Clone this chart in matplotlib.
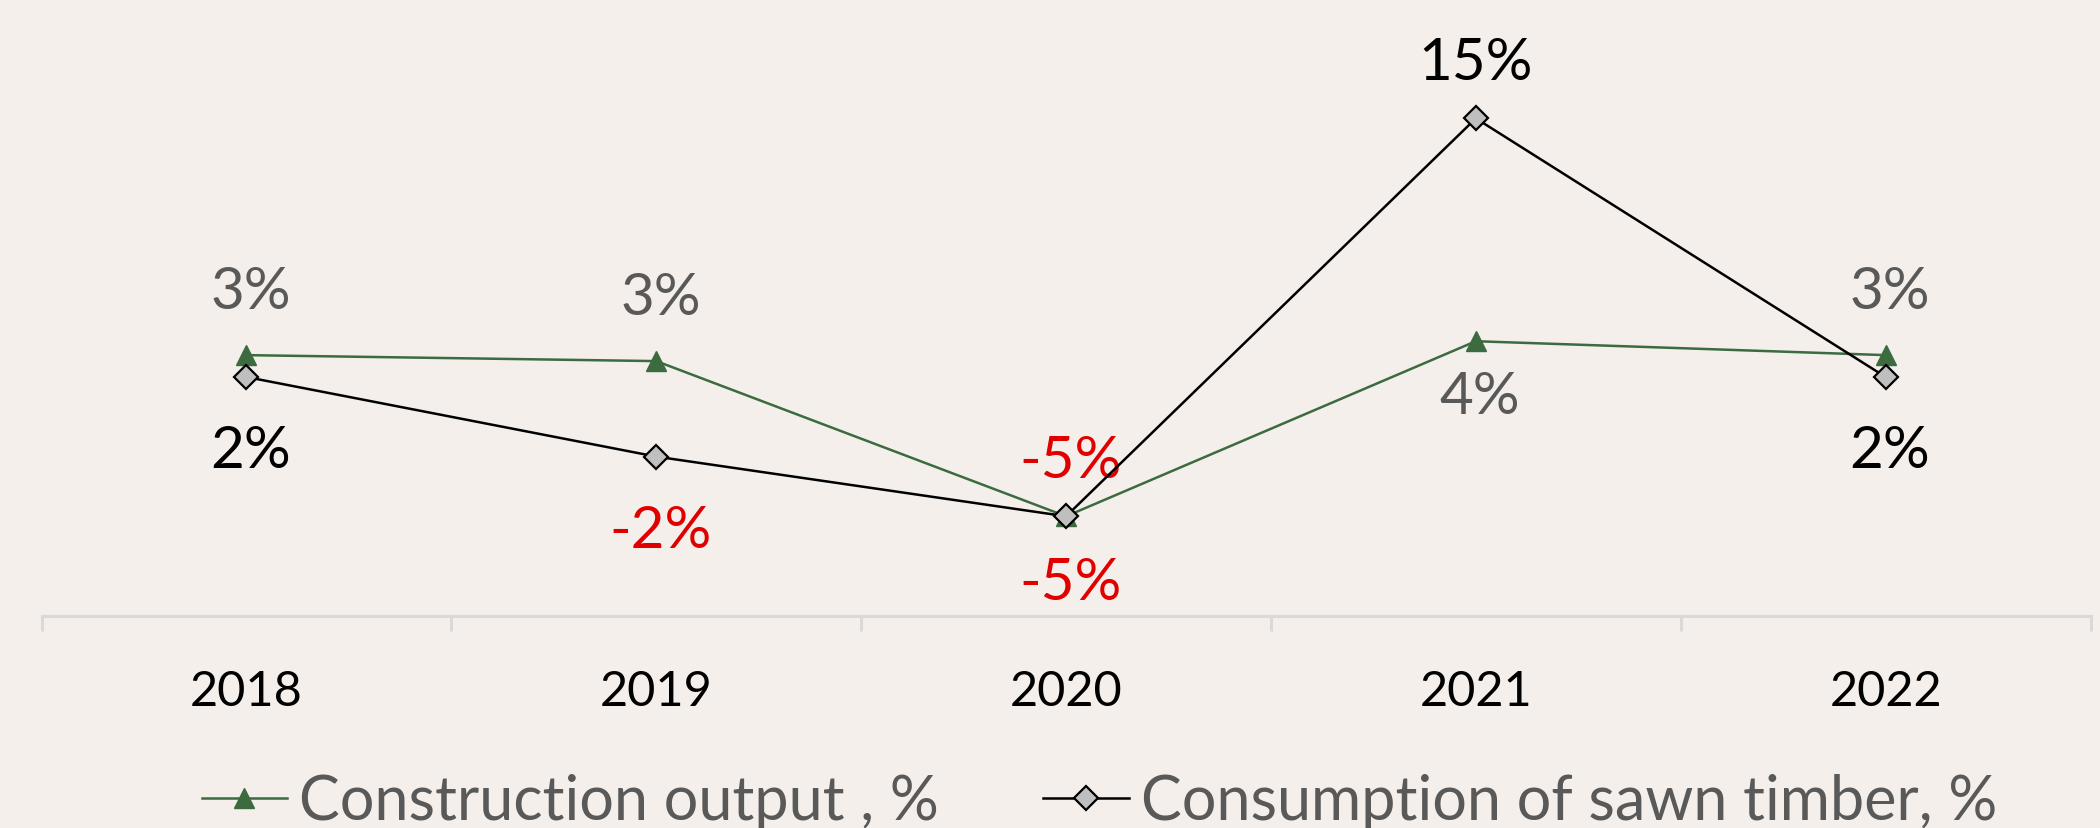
import matplotlib
matplotlib.use("Agg")
import matplotlib.pyplot as plt
from matplotlib.lines import Line2D

years = ["2018", "2019", "2020", "2021", "2022"]
construction = [3.1, 2.8, -5.0, 3.8, 3.1]
timber = [2.0, -2.0, -5.0, 15.0, 2.0]
construction_label = "Construction output , %"
timber_label = "Consumption of sawn timber, %"

# label placement (style): +1 above, -1 below
constr_side = [1, 1, -1, -1, 1]
timber_side = [-1, -1, 1, 1, -1]

plt.rcParams['font.family'] = ['Lato', 'DejaVu Sans']

GREEN = "#3b6b3f"
GRAY_TXT = "#595959"
RED = "#e00000"
BG = "#f4efeb"
W = 'normal'

fig = plt.figure(figsize=(21, 8.29), dpi=100, facecolor=BG)
ax = fig.add_axes([0.0198, 0.256, 0.9757, 0.72])
ax.set_facecolor(BG)

x = list(range(len(years)))
ax.plot(x, construction, color=GREEN, lw=1.8, marker='^', markersize=14,
        markerfacecolor=GREEN, markeredgecolor=GREEN, zorder=3)
ax.plot(x, timber, color='black', lw=1.8, marker='D', markersize=12,
        markerfacecolor='#bfbfbf', markeredgecolor='black', markeredgewidth=1.6, zorder=4)

ax.set_xlim(-0.5, len(years) - 0.5)
ax.set_ylim(-10, 20)

def fmt(v):
    return f"{round(v):.0f}%"

for xi, v, s in zip(x, construction, constr_side):
    col = RED if v < 0 else GRAY_TXT
    off = 46 if s > 0 else -48
    if xi == 3:
        off = -40
    ax.annotate(fmt(v), (xi, v), xytext=(3, off), textcoords='offset points',
                ha='center', va='center', fontsize=42, color=col, fontweight=W)

for xi, v, s in zip(x, timber, timber_side):
    col = RED if v < 0 else 'black'
    off = 40 if s > 0 else -53
    ax.annotate(fmt(v), (xi, v), xytext=(3 if xi != 3 else 0, off), textcoords='offset points',
                ha='center', va='center', fontsize=42, color=col, fontweight=W)

for sp in ['top', 'left', 'right']:
    ax.spines[sp].set_visible(False)
ax.spines['bottom'].set_color('#d9d9d9')
ax.spines['bottom'].set_linewidth(2.2)
ax.set_yticks([])
ax.set_xticks(x)
ax.set_xticklabels(years, fontsize=35, color='black', fontweight=W)
ax.tick_params(axis='x', which='major', length=0, pad=38)
ax.set_xticks([i - 0.5 for i in range(len(years) + 1)], minor=True)
ax.tick_params(axis='x', which='minor', length=11, width=2.2, color='#d9d9d9', direction='out')

handles = [
    Line2D([0], [0], color=GREEN, lw=1.8, marker='^', markersize=14,
           markerfacecolor=GREEN, markeredgecolor=GREEN),
    Line2D([0], [0], color='black', lw=1.8, marker='D', markersize=12,
           markerfacecolor='#bfbfbf', markeredgecolor='black', markeredgewidth=1.6),
]
leg = fig.legend(handles, [construction_label, timber_label], loc='center',
                 bbox_to_anchor=(0.5236, 0.032), ncol=2, frameon=False,
                 handlelength=1.4, handletextpad=0.2, columnspacing=1.7,
                 prop={'size': 44, 'weight': W})
for t in leg.get_texts():
    t.set_color(GRAY_TXT)

fig.savefig("out.png", dpi=100, facecolor=BG)
